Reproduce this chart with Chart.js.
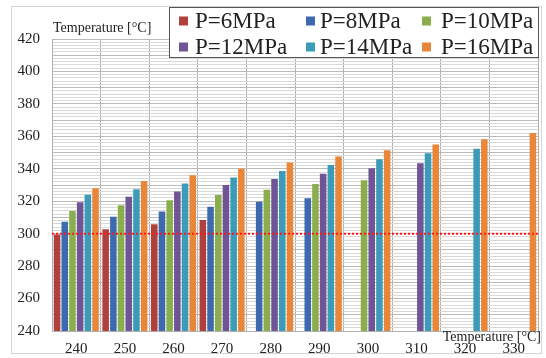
<!DOCTYPE html>
<html>
<head>
<meta charset="utf-8">
<script src="https://cdn.jsdelivr.net/npm/chart.js"></script>
<style>
  html, body { margin: 0; padding: 0; background: #fff; }
  #wrap { position: relative; width: 546px; height: 358px; }
</style>
</head>
<body>
<div id="wrap"><canvas id="chart" width="546" height="358"></canvas></div>
<script>
// categories (x axis) and bar values per pressure
const categories = ['240', '250', '260', '270', '280', '290', '300', '310', '320', '330'];
const p6  = [299.5, 302.7, 305.8, 308.4, null, null, null, null, null, null];
const p8  = [307.4, 310.5, 313.6, 316.6, 319.7, 321.8, null, null, null, null];
const p10 = [314.0, 317.5, 320.6, 323.8, 327.0, 330.6, 333.0, null, null, null];
const p12 = [319.3, 322.8, 326.0, 330.0, 333.7, 337.0, 340.3, 343.4, null, null];
const p14 = [324.0, 327.4, 331.0, 334.7, 338.6, 342.3, 345.8, 349.6, 352.4, null];
const p16 = [328.0, 332.5, 336.0, 340.0, 343.8, 347.5, 351.4, 355.0, 358.2, 362.0];
const seriesLabels = ['P=6MPa', 'P=8MPa', 'P=10MPa', 'P=12MPa', 'P=14MPa', 'P=16MPa'];
const yMin = 240, yMax = 420, yStep = 2, yLabelStep = 20;
const limitLine = 300; // red dotted reference line

const colors = ['#b0403c', '#3d6aae', '#8aae4e', '#6f5596', '#3b9bb8', '#e8863a'];
const serif = '"Liberation Serif", "Times New Roman", serif';

// outer frame, dotted limit line, axis titles and legend box
const extras = {
    id: 'extras',
    beforeDraw(chart) {
        const ctx = chart.ctx;
        ctx.save();
        ctx.strokeStyle = '#d4d4d4';
        ctx.lineWidth = 1;
        ctx.strokeRect(11.5, 6.5, 530, 347);
        ctx.restore();
    },
    afterDraw(chart) {
        const ctx = chart.ctx;
        const area = chart.chartArea;
        const y = chart.scales.y.getPixelForValue(limitLine);
        ctx.save();
        ctx.strokeStyle = '#ff1a1a';
        ctx.lineWidth = 2;
        ctx.setLineDash([2, 2]);
        ctx.beginPath();
        ctx.moveTo(area.left, y);
        ctx.lineTo(area.right, y);
        ctx.stroke();
        ctx.setLineDash([]);

        // axis titles
        ctx.fillStyle = '#222';
        ctx.font = '14px ' + serif;
        ctx.textBaseline = 'middle';
        ctx.textAlign = 'left';
        ctx.fillText('Temperature [°C]', 53, 28);
        ctx.textAlign = 'right';
        ctx.fillText('Temperature [°C]', 541, 337);

        // legend
        ctx.fillStyle = '#fff';
        ctx.fillRect(169.5, 7.5, 369, 50);
        ctx.strokeStyle = '#555';
        ctx.lineWidth = 1;
        ctx.strokeRect(169.5, 7.5, 369, 50);
        const boxX = [179, 306, 422];
        const textX = [195, 320, 441];
        const rowY = [21, 47];
        ctx.font = '23px ' + serif;
        ctx.textAlign = 'left';
        chart.data.datasets.forEach((ds, i) => {
            const col = i % 3, row = Math.floor(i / 3);
            ctx.fillStyle = ds.backgroundColor;
            ctx.fillRect(boxX[col], rowY[row] - 4.5, 9, 9);
            ctx.fillStyle = '#222';
            ctx.fillText(ds.label, textX[col], rowY[row] + 1);
        });
        ctx.restore();
    }
};

const seriesData = [p6, p8, p10, p12, p14, p16];

new Chart(document.getElementById('chart'), {
    type: 'bar',
    data: {
        labels: categories,
        datasets: seriesData.map((d, i) => ({
            label: seriesLabels[i],
            data: d,
            backgroundColor: colors[i],
            borderWidth: 0,
            categoryPercentage: 0.95,
            barPercentage: 0.85
        }))
    },
    options: {
        responsive: false,
        animation: false,
        layout: { padding: { top: 39, right: 8, left: 0, bottom: 0 } },
        plugins: {
            legend: { display: false },
            tooltip: { enabled: false }
        },
        scales: {
            x: {
                grid: { color: '#b0b0b0', drawTicks: false, offset: true },
                border: { color: '#b0b0b0' },
                ticks: {
                    color: '#222',
                    font: { family: serif, size: 15 },
                    padding: 9,
                    maxRotation: 0
                },
                afterFit(scale) { scale.height = 27; }
            },
            y: {
                min: yMin,
                max: yMax,
                grid: {
                    drawTicks: false,
                    color: ctx => (ctx.tick && ctx.tick.value % 10 === 0) ? '#bababa' : '#d9d9d9'
                },
                border: { color: '#b0b0b0' },
                ticks: {
                    stepSize: yStep,
                    autoSkip: false,
                    color: '#222',
                    font: { family: serif, size: 15 },
                    padding: 12,
                    callback: v => (v % yLabelStep === 0 ? v : '')
                },
                afterFit(scale) { scale.width = 52; }
            }
        }
    },
    plugins: [extras]
});
</script>
</body>
</html>
